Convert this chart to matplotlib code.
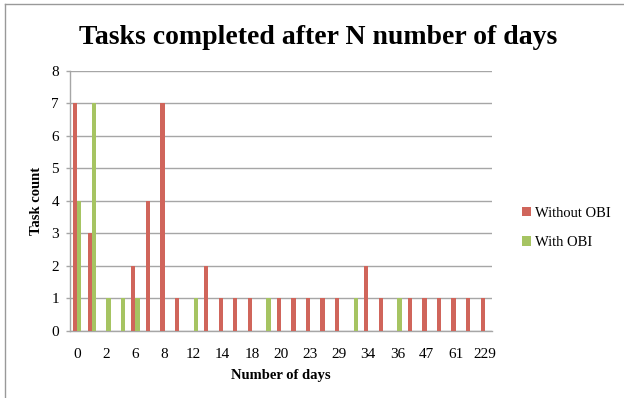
import numpy as np
import matplotlib.pyplot as plt
from matplotlib.lines import Line2D

# day categories (only every other one is labelled on the axis)
days = ['0', '1', '2', '4', '6', '7', '8', '10', '12', '13', '14', '16', '18', '19', '20',
        '22', '23', '27', '29', '31', '34', '35', '36', '42', '47', '55', '61', '90', '229']
without_obi = [7, 3, 0, 0, 2, 4, 7, 1, 0, 2, 1, 1, 1, 0, 1, 1, 1, 1, 1, 0, 2, 1, 0, 1, 1, 1, 1, 1, 1]
with_obi = [4, 7, 1, 1, 1, 0, 0, 0, 1, 0, 0, 0, 0, 1, 0, 0, 0, 0, 0, 1, 0, 0, 1, 0, 0, 0, 0, 0, 0]

RED = '#D0655B'
GREEN = '#A6C462'
GRID = '#A6A6A6'
SERIF = ['Liberation Serif', 'DejaVu Serif']

W, H = 624, 398
fig = plt.figure(figsize=(W / 100, H / 100), dpi=100)
ax = fig.add_axes([70 / W, 1 - 331 / H, (492 - 70) / W, (331 - 70.7) / H])

x = np.arange(len(days))
w = 1 / 3.5
ax.bar(x - w / 2, without_obi, w, color=RED, label='Without OBI', zorder=3)
ax.bar(x + w / 2, with_obi, w, color=GREEN, label='With OBI', zorder=3)

ax.set_xlim(-0.5, len(days) - 0.5)
ax.set_ylim(0, 8)
ax.set_yticks(range(9))
ax.grid(axis='y', color=GRID, linewidth=1, zorder=0)
ax.set_xticks(x[::2])
ax.set_xticklabels(days[::2], family=SERIF, fontsize=11)
for lab in ax.get_yticklabels():
    lab.set_family(SERIF)
    lab.set_fontsize(11)
ax.tick_params(axis='x', length=0, pad=12)
ax.tick_params(axis='y', length=3, width=1, color=GRID, pad=5)

for s in ('top', 'right'):
    ax.spines[s].set_visible(False)
for s in ('left', 'bottom'):
    ax.spines[s].set_color(GRID)
    ax.spines[s].set_linewidth(1)

ax.set_xlabel('Number of days', family=SERIF, fontsize=10.5, fontweight='bold', labelpad=6)
ax.set_ylabel('Task count', family=SERIF, fontsize=10.5, fontweight='bold', labelpad=6)
fig.text(318 / W, 1 - 38 / H, 'Tasks completed after N number of days', family=SERIF,
         fontsize=20, fontweight='bold', ha='center', va='center')

ax.legend(loc='center left', bbox_to_anchor=(509 / W, 1 - 228 / H), bbox_transform=fig.transFigure,
          frameon=False, prop={'family': SERIF, 'size': 10.5}, handlelength=0.6, handleheight=0.6,
          handletextpad=0.3, labelspacing=1.1)

# outer chart border (only top and left edges fall inside the image)
fig.add_artist(Line2D([5 / W, 5 / W], [0, 1 - 4 / H], color='#999999', linewidth=1))
fig.add_artist(Line2D([5 / W, 1], [1 - 4 / H, 1 - 4 / H], color='#999999', linewidth=1))

fig.savefig('out.png', dpi=100)
